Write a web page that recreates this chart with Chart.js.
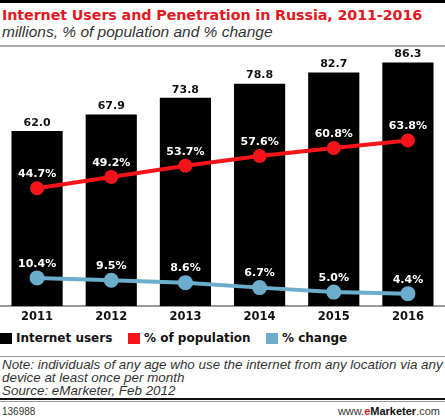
<!DOCTYPE html>
<html>
<head>
<meta charset="utf-8">
<script src="https://cdn.jsdelivr.net/npm/chart.js@4.4.1/dist/chart.umd.min.js"></script>
<style>
  body { margin: 0; background: #fff; width: 445px; height: 420px; overflow: hidden; position: relative; font-family: "Liberation Sans", Arial, sans-serif; }
  .abs { position: absolute; }
  #topline { left: 0; top: 0; width: 445px; height: 3px; background: #000; }
  #title { left: 2px; top: 7px; font-family: "DejaVu Sans", sans-serif; font-weight: bold; font-size: 14.3px; color: #e3191f; letter-spacing: -0.1px; white-space: nowrap; }
  #subtitle { left: 2px; top: 23px; font-style: italic; font-size: 15.5px; color: #333; white-space: nowrap; }
  #subline { left: 0; top: 45px; width: 445px; height: 2px; background: #aaa; }
  #wrap { left: 0; top: 48px; width: 445px; height: 282px; }
  #legend { left: 0; top: 331px; font-family: "DejaVu Sans", sans-serif; font-weight: bold; font-size: 12px; color: #111; white-space: nowrap; }
  #legend span.box { position: absolute; top: 2px; width: 12px; height: 11px; }
  #legend span.txt { position: absolute; top: 0; }
  #legline { left: 0; top: 356px; width: 445px; height: 1px; background: #999; }
  #note { left: 2px; top: 359px; font-style: italic; font-size: 13.4px; line-height: 12.8px; color: #333; white-space: nowrap; }
  #footline { left: 0; top: 398px; width: 445px; height: 2px; background: #111; }
  #footline2 { left: 0; top: 401px; width: 445px; height: 1px; background: #999; }
  #code { left: 2px; top: 406px; font-size: 10px; color: #333; }
  #site { right: 5px; top: 405px; font-size: 11px; color: #333; }
  #site b { color: #111; }
  #site .e { color: #e3191f; font-weight: bold; }
</style>
</head>
<body>
<div class="abs" id="topline"></div>
<div class="abs" id="title">Internet Users and Penetration in Russia, 2011-2016</div>
<div class="abs" id="subtitle">millions, % of population and % change</div>
<div class="abs" id="subline"></div>
<div class="abs" id="wrap"><canvas id="chart"></canvas></div>
<div class="abs" id="legend">
  <span class="box" style="left:0;background:#000"></span><span class="txt" style="left:16px">Internet users</span>
  <span class="box" style="left:128px;background:#f5141a"></span><span class="txt" style="left:144px">% of population</span>
  <span class="box" style="left:266px;background:#6aaecb"></span><span class="txt" style="left:282px">% change</span>
</div>
<div class="abs" id="legline"></div>
<div class="abs" id="note">Note: individuals of any age who use the internet from any location via any<br>device at least once per month<br>Source: eMarketer, Feb 2012</div>
<div class="abs" id="footline"></div>
<div class="abs" id="footline2"></div>
<div class="abs" id="code">136988</div>
<div class="abs" id="site">www.<span class="e">e</span><b>Marketer</b>.com</div>

<script>
const years = ['2011', '2012', '2013', '2014', '2015', '2016'];
const users = [62.0, 67.9, 73.8, 78.8, 82.7, 86.3];
const penetration = [44.7, 49.2, 53.7, 57.6, 60.8, 63.8];
const change = [10.4, 9.5, 8.6, 6.7, 5.0, 4.4];

const labelFont = 'bold 11px "DejaVu Sans", sans-serif';

// labels above bars and points
const valueLabels = {
    id: 'valueLabels',
    afterDatasetsDraw(chart) {
        const ctx = chart.ctx;
        ctx.save();
        ctx.font = labelFont;
        ctx.textAlign = 'center';
        ctx.textBaseline = 'middle';
        chart.data.datasets.forEach(function (ds, i) {
            const meta = chart.getDatasetMeta(i);
            meta.data.forEach(function (el, j) {
                let v = ds.data[j];
                if (ds.type === 'bar') {
                    ctx.fillStyle = '#111';
                    ctx.fillText(v.toFixed(1), el.x, el.y - 8);
                } else {
                    ctx.fillStyle = '#fff';
                    ctx.fillText(v.toFixed(1) + '%', el.x, el.y - 14);
                }
            });
        });
        ctx.restore();
    }
};

new Chart(document.getElementById('chart'), {
    data: {
        labels: years,
        datasets: [
            {
                type: 'line',
                label: '% of population',
                data: penetration,
                yAxisID: 'y1',
                borderColor: '#f5141a',
                backgroundColor: '#f5141a',
                borderWidth: 4,
                pointRadius: 5,
                order: 1
            },
            {
                type: 'line',
                label: '% change',
                data: change,
                yAxisID: 'y2',
                borderColor: '#6aaecb',
                backgroundColor: '#6aaecb',
                borderWidth: 4,
                pointRadius: 5.5,
                order: 1
            },
            {
                type: 'bar',
                label: 'Internet users',
                data: users,
                yAxisID: 'y',
                backgroundColor: '#000',
                barPercentage: 0.69,
                categoryPercentage: 1,
                order: 2
            }
        ]
    },
    options: {
        responsive: true,
        maintainAspectRatio: false,
        animation: false,
        layout: { autoPadding: false, padding: { top: 4, bottom: 2, left: 0, right: 0 } },
        plugins: {
            legend: { display: false },
            tooltip: { enabled: false }
        },
        scales: {
            x: {
                grid: { display: false, drawTicks: false },
                border: { display: true, color: '#999', width: 2 },
                ticks: {
                    color: '#111',
                    padding: 4,
                    font: { family: '"DejaVu Sans", sans-serif', weight: 'bold', size: 11.5 }
                }
            },
            y: { display: false, min: 0, max: 90 },
            y1: { display: false, min: -2.42, max: 99.2 },
            y2: { display: false, min: -0.38, max: 96.5 }
        }
    },
    plugins: [valueLabels]
});
</script>
</body>
</html>
